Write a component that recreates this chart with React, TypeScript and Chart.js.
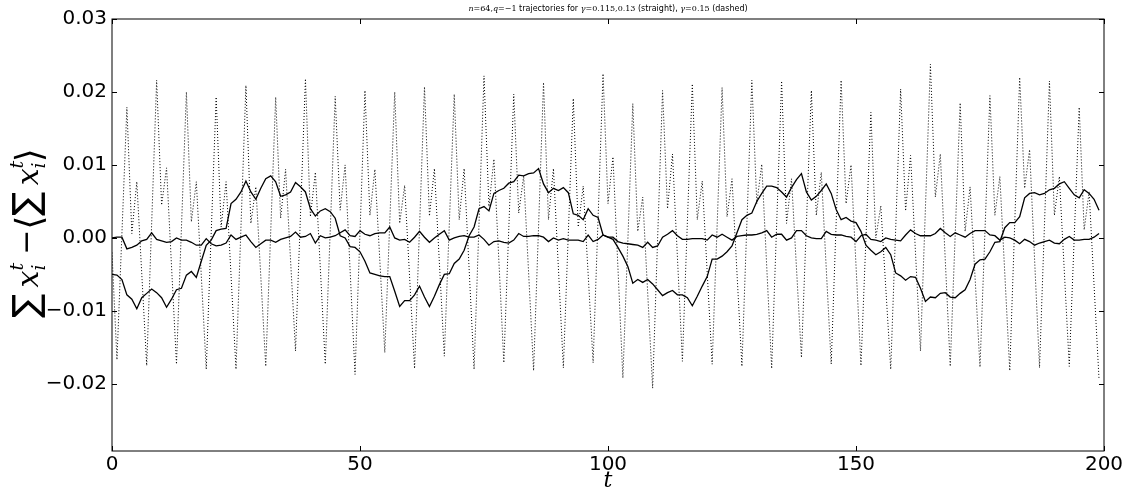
import React, { useEffect, useRef } from 'react';
import { Chart, registerables } from 'chart.js';

Chart.register(...registerables);

// x ticks / y ticks
const xTickValues = [0, 50, 100, 150, 200];
const yTickValues = [-0.02, -0.01, 0.0, 0.01, 0.02, 0.03];
const yMin = -0.0292;
const yMax = 0.03;

// gamma = 0.115 / 0.13 trajectories (solid), one value per time step t = 0..199
const solidA = [
  0.0000, 0.0001, 0.0001, -0.0015, -0.0013, -0.0010, -0.0004, -0.0002, 0.0007, -0.0002,
  -0.0004, -0.0006, -0.0005, 0.0000, -0.0003, -0.0003, -0.0006, -0.0010, -0.0010, -0.0001,
  -0.0008, -0.0011, -0.0010, -0.0007, 0.0004, -0.0002, 0.0001, 0.0004, -0.0005, -0.0013,
  -0.0008, -0.0003, -0.0003, -0.0006, -0.0002, 0.0000, 0.0002, 0.0008, 0.0001, 0.0002,
  0.0006, -0.0007, 0.0003, 0.0000, 0.0001, 0.0003, 0.0007, 0.0011, 0.0003, 0.0002,
  0.0010, 0.0005, 0.0003, 0.0006, 0.0007, 0.0007, 0.0015, 0.0000, -0.0003, -0.0002,
  -0.0006, 0.0001, 0.0009, 0.0001, -0.0006, 0.0000, 0.0005, 0.0010, -0.0003, 0.0000,
  0.0002, 0.0003, 0.0001, 0.0001, 0.0004, -0.0002, -0.0010, -0.0005, -0.0004, -0.0006,
  -0.0007, -0.0003, 0.0006, 0.0002, 0.0002, 0.0003, 0.0003, 0.0001, -0.0005, 0.0000,
  -0.0003, -0.0001, -0.0003, -0.0003, -0.0003, -0.0005, 0.0004, -0.0005, -0.0002, 0.0004,
  0.0001, 0.0001, -0.0005, -0.0007, -0.0008, -0.0009, -0.0010, -0.0013, -0.0006, -0.0013,
  -0.0011, 0.0001, 0.0005, 0.0010, 0.0003, -0.0002, -0.0002, -0.0001, -0.0001, -0.0001,
  -0.0003, 0.0004, 0.0001, 0.0005, 0.0001, -0.0003, 0.0002, 0.0003, 0.0004, 0.0004,
  0.0005, 0.0007, 0.0010, 0.0001, 0.0005, 0.0005, -0.0003, 0.0000, 0.0010, 0.0010,
  0.0003, 0.0000, -0.0001, -0.0001, 0.0009, 0.0005, 0.0004, 0.0004, 0.0002, 0.0001,
  -0.0005, 0.0003, 0.0005, -0.0002, -0.0003, -0.0005, 0.0000, -0.0002, -0.0003, -0.0004,
  0.0004, 0.0011, 0.0006, 0.0003, 0.0003, 0.0003, 0.0006, 0.0013, 0.0007, 0.0002,
  0.0007, 0.0004, 0.0001, 0.0006, 0.0010, 0.0010, 0.0010, 0.0004, 0.0003, -0.0003,
  0.0001, 0.0000, -0.0003, -0.0008, -0.0002, -0.0005, -0.0010, -0.0007, -0.0005, -0.0003,
  -0.0007, -0.0008, -0.0002, 0.0002, -0.0003, -0.0003, -0.0002, -0.0002, 0.0001, 0.0006,
];

const solidB = [
  -0.0050, -0.0051, -0.0057, -0.0078, -0.0084, -0.0097, -0.0082, -0.0076, -0.0070, -0.0075,
  -0.0082, -0.0095, -0.0084, -0.0071, -0.0069, -0.0051, -0.0046, -0.0054, -0.0032, -0.0010,
  -0.0003, 0.0010, 0.0012, 0.0013, 0.0047, 0.0053, 0.0063, 0.0078, 0.0063, 0.0053,
  0.0068, 0.0081, 0.0085, 0.0077, 0.0057, 0.0059, 0.0063, 0.0076, 0.0070, 0.0063,
  0.0040, 0.0030, 0.0037, 0.0040, 0.0036, 0.0027, 0.0003, 0.0000, -0.0012, -0.0013,
  -0.0019, -0.0032, -0.0048, -0.0050, -0.0052, -0.0053, -0.0053, -0.0073, -0.0094, -0.0086,
  -0.0086, -0.0078, -0.0066, -0.0081, -0.0094, -0.0080, -0.0064, -0.0050, -0.0049, -0.0035,
  -0.0029, -0.0017, 0.0003, 0.0015, 0.0040, 0.0043, 0.0037, 0.0061, 0.0065, 0.0068,
  0.0075, 0.0077, 0.0086, 0.0085, 0.0088, 0.0089, 0.0095, 0.0074, 0.0062, 0.0068,
  0.0065, 0.0069, 0.0062, 0.0033, 0.0031, 0.0025, 0.0040, 0.0031, 0.0028, 0.0004,
  0.0001, -0.0002, -0.0013, -0.0025, -0.0039, -0.0062, -0.0057, -0.0061, -0.0057, -0.0063,
  -0.0071, -0.0079, -0.0075, -0.0072, -0.0078, -0.0078, -0.0082, -0.0093, -0.0080, -0.0066,
  -0.0053, -0.0029, -0.0029, -0.0025, -0.0019, -0.0011, 0.0007, 0.0025, 0.0031, 0.0034,
  0.0050, 0.0061, 0.0071, 0.0071, 0.0069, 0.0063, 0.0056, 0.0069, 0.0080, 0.0088,
  0.0063, 0.0052, 0.0057, 0.0065, 0.0074, 0.0061, 0.0039, 0.0025, 0.0028, 0.0023,
  0.0021, 0.0009, -0.0010, -0.0017, -0.0023, -0.0019, -0.0013, -0.0023, -0.0048, -0.0052,
  -0.0058, -0.0053, -0.0054, -0.0069, -0.0087, -0.0081, -0.0082, -0.0076, -0.0075, -0.0081,
  -0.0082, -0.0076, -0.0071, -0.0057, -0.0036, -0.0030, -0.0029, -0.0019, -0.0006, -0.0005,
  0.0014, 0.0021, 0.0021, 0.0029, 0.0055, 0.0061, 0.0062, 0.0059, 0.0061, 0.0066,
  0.0068, 0.0074, 0.0077, 0.0068, 0.0059, 0.0055, 0.0066, 0.0061, 0.0053, 0.0038,
];

// gamma = 0.15 trajectory (dotted): time steps and values at its vertices
const dottedT = [
  0, 1, 3, 4, 5, 7, 9, 10, 11, 13, 15, 16, 17, 19, 21, 22, 23, 25, 27, 28, 29, 31,
  33, 34, 35, 37, 39, 40, 41, 43, 45, 46, 47, 49, 51, 52, 53, 55, 57, 58, 59, 61,
  63, 64, 65, 67, 69, 70, 71, 73, 75, 76, 77, 79, 81, 82, 83, 85, 87, 88, 89, 91,
  93, 94, 95, 97, 99, 100, 101, 103, 105, 106, 107, 109, 111, 112, 113, 115, 117, 118, 119, 121,
  123, 124, 125, 127, 129, 130, 131, 133, 135, 136, 137, 139, 141, 142, 143, 145, 147, 148, 149, 151,
  153, 154, 155, 157, 159, 160, 161, 163, 165, 166, 167, 169, 171, 172, 173, 175, 177, 178, 179, 181,
  183, 184, 185, 187, 189, 190, 191, 193, 195, 196, 197, 199,
];
const dottedV = [
  -0.0020, -0.0167, 0.0179, 0.0006, 0.0077, -0.0175, 0.0216, 0.0045, 0.0096, -0.0173, 0.0200, 0.0022, 0.0077, -0.0180, 0.0193, 0.0015, 0.0077, -0.0180, 0.0209, 0.0020, 0.0070, -0.0176,
  0.0193, 0.0027, 0.0094, -0.0155, 0.0218, 0.0029, 0.0090, -0.0173, 0.0194, 0.0038, 0.0100, -0.0187, 0.0202, 0.0031, 0.0094, -0.0157, 0.0200, 0.0020, 0.0072, -0.0179,
  0.0207, 0.0030, 0.0095, -0.0162, 0.0197, 0.0025, 0.0095, -0.0180, 0.0222, 0.0043, 0.0108, -0.0171, 0.0197, 0.0034, 0.0085, -0.0182, 0.0213, 0.0025, 0.0095, -0.0178,
  0.0191, 0.0015, 0.0071, -0.0171, 0.0225, 0.0047, 0.0111, -0.0192, 0.0184, 0.0009, 0.0056, -0.0206, 0.0202, 0.0040, 0.0115, -0.0169, 0.0211, 0.0025, 0.0078, -0.0173,
  0.0206, 0.0029, 0.0081, -0.0176, 0.0216, 0.0047, 0.0101, -0.0179, 0.0215, 0.0020, 0.0081, -0.0164, 0.0202, 0.0031, 0.0090, -0.0173, 0.0216, 0.0047, 0.0100, -0.0175,
  0.0172, 0.0000, 0.0044, -0.0180, 0.0204, 0.0037, 0.0113, -0.0155, 0.0238, 0.0056, 0.0115, -0.0176, 0.0185, 0.0009, 0.0070, -0.0177, 0.0195, 0.0031, 0.0084, -0.0182,
  0.0220, 0.0068, 0.0121, -0.0178, 0.0215, 0.0031, 0.0084, -0.0176, 0.0179, 0.0011, 0.0063, -0.0194,
];

const titleSegments: { text: string; math: boolean; italic: boolean }[] = [
  { text: 'n', math: true, italic: true },
  { text: '=64,', math: true, italic: false },
  { text: 'q', math: true, italic: true },
  { text: '=\u22121', math: true, italic: false },
  { text: ' trajectories for ', math: false, italic: false },
  { text: '\u03b3', math: true, italic: true },
  { text: '=0.115,0.13', math: true, italic: false },
  { text: ' (straight), ', math: false, italic: false },
  { text: '\u03b3', math: true, italic: true },
  { text: '=0.15', math: true, italic: false },
  { text: ' (dashed)', math: false, italic: false },
];

const fmtY = (v: number) => {
  const r = Math.round(v * 100) / 100;
  if (Math.abs(r) < 1e-9) return '0.00';
  return (r < 0 ? '\u2212' : '') + Math.abs(r).toFixed(2);
};

function drawYTitle(ctx: CanvasRenderingContext2D, cx: number, cy: number) {
  // ∑ x_i^t − ⟨∑ x_i^t⟩  drawn rotated
  type Seg = { t: string; font: string; dy: number; adv?: number };
  const big = "36px 'DejaVu Sans'";
  const xf = "italic 30px 'DejaVu Serif'";
  const small = "italic 19px 'DejaVu Serif'";
  const op = "30px 'DejaVu Sans'";
  const br = "36px 'DejaVu Sans'";
  const segs: Seg[] = [];
  const sumX = () => {
    segs.push({ t: '\u2211', font: big, dy: 0 });
    segs.push({ t: ' ', font: small, dy: 0 });
    segs.push({ t: 'x', font: xf, dy: 0 });
    segs.push({ t: 't', font: small, dy: -15, adv: 0 });
    segs.push({ t: 'i', font: small, dy: 7 });
  };
  sumX();
  segs.push({ t: ' \u2212', font: op, dy: -2 });
  segs.push({ t: '\u27e8', font: br, dy: 3 });
  sumX();
  segs.push({ t: '\u27e9', font: br, dy: 3 });

  ctx.save();
  ctx.translate(cx, cy);
  ctx.rotate(-Math.PI / 2);
  ctx.fillStyle = '#000';
  ctx.textBaseline = 'alphabetic';
  ctx.textAlign = 'left';
  let total = 0;
  for (const s of segs) {
    ctx.font = s.font;
    total += s.adv !== undefined ? s.adv : ctx.measureText(s.t).width;
  }
  let x = -total / 2;
  for (const s of segs) {
    ctx.font = s.font;
    ctx.fillText(s.t, x, s.dy);
    x += s.adv !== undefined ? s.adv : ctx.measureText(s.t).width;
  }
  ctx.restore();
}

const framePlugin = {
  id: 'mplFrame',
  afterDraw(chart: any) {
    const { ctx, chartArea: a, scales } = chart;
    ctx.save();
    ctx.strokeStyle = '#000';
    ctx.lineWidth = 1;
    ctx.strokeRect(a.left, a.top, a.right - a.left, a.bottom - a.top);
    const tl = 5;
    ctx.beginPath();
    for (const v of yTickValues) {
      const py = Math.round(scales.y.getPixelForValue(v)) + 0.5;
      ctx.moveTo(a.left, py);
      ctx.lineTo(a.left + tl, py);
      ctx.moveTo(a.right, py);
      ctx.lineTo(a.right - tl, py);
    }
    for (const v of xTickValues) {
      const px = Math.round(scales.x.getPixelForValue(v)) + 0.5;
      ctx.moveTo(px, a.bottom);
      ctx.lineTo(px, a.bottom - tl);
      ctx.moveTo(px, a.top);
      ctx.lineTo(px, a.top + tl);
    }
    ctx.stroke();

    // title
    const cxTitle = (a.left + a.right) / 2;
    const fs = 8;
    const fontFor = (s: { math: boolean; italic: boolean }) =>
      (s.italic ? 'italic ' : '') + fs + 'px ' + (s.math ? "'DejaVu Serif'" : "'DejaVu Sans'");
    let total = 0;
    for (const s of titleSegments) {
      ctx.font = fontFor(s);
      total += ctx.measureText(s.text).width;
    }
    let tx = cxTitle - total / 2;
    ctx.fillStyle = '#000';
    ctx.textBaseline = 'middle';
    ctx.textAlign = 'left';
    for (const s of titleSegments) {
      ctx.font = fontFor(s);
      ctx.fillText(s.text, tx, 9);
      tx += ctx.measureText(s.text).width;
    }

    // x axis title
    ctx.font = "italic 22px 'DejaVu Serif'";
    ctx.textAlign = 'center';
    ctx.textBaseline = 'alphabetic';
    ctx.fillText('t', cxTitle, 487);

    // y axis title
    drawYTitle(ctx, 38, (a.top + a.bottom) / 2 - 2);
    ctx.restore();
  },
};

export default function App() {
  const ref = useRef<HTMLCanvasElement | null>(null);

  useEffect(() => {
    document.body.style.margin = '0';
    const canvas = ref.current;
    if (!canvas) return;
    const dotted = dottedT.map((t, i) => ({ x: t, y: dottedV[i] }));
    const lineA = solidA.map((v, i) => ({ x: i, y: v }));
    const lineB = solidB.map((v, i) => ({ x: i, y: v }));
    const chart = new Chart(canvas, {
      type: 'line',
      data: {
        datasets: [
          {
            label: 'gamma=0.15',
            data: dotted,
            borderColor: '#000',
            borderWidth: 1,
            borderDash: [1, 2],
            pointRadius: 0,
            fill: false,
            tension: 0,
          },
          {
            label: 'gamma=0.115',
            data: lineA,
            borderColor: '#000',
            borderWidth: 1.3,
            pointRadius: 0,
            fill: false,
            tension: 0,
          },
          {
            label: 'gamma=0.13',
            data: lineB,
            borderColor: '#000',
            borderWidth: 1.3,
            pointRadius: 0,
            fill: false,
            tension: 0,
          },
        ],
      },
      options: {
        animation: false,
        responsive: false,
        devicePixelRatio: 1,
        layout: { padding: { top: 19, right: 28, bottom: 0, left: 0 } },
        plugins: { legend: { display: false }, tooltip: { enabled: false }, title: { display: false } },
        scales: {
          x: {
            type: 'linear',
            min: 0,
            max: 200,
            grid: { display: false, drawTicks: false },
            border: { display: false },
            afterBuildTicks: (s: any) => {
              s.ticks = xTickValues.map((v) => ({ value: v }));
            },
            afterFit: (s: any) => {
              s.height = 41;
            },
            ticks: {
              color: '#000',
              padding: 2,
              maxRotation: 0,
              autoSkip: false,
              font: { family: "'DejaVu Sans'", size: 20 },
              callback: (v: any) => String(v),
            },
          },
          y: {
            type: 'linear',
            min: yMin,
            max: yMax,
            grid: { display: false, drawTicks: false },
            border: { display: false },
            afterBuildTicks: (s: any) => {
              s.ticks = yTickValues.map((v) => ({ value: v }));
            },
            afterFit: (s: any) => {
              s.width = 112;
            },
            ticks: {
              color: '#000',
              padding: 5,
              autoSkip: false,
              font: { family: "'DejaVu Sans'", size: 20 },
              callback: (v: any) => fmtY(Number(v)),
            },
          },
        },
      },
      plugins: [framePlugin],
    } as any);
    return () => chart.destroy();
  }, []);

  return <canvas ref={ref} width={1132} height={492} style={{ display: 'block', width: 1132, height: 492 }} />;
}
